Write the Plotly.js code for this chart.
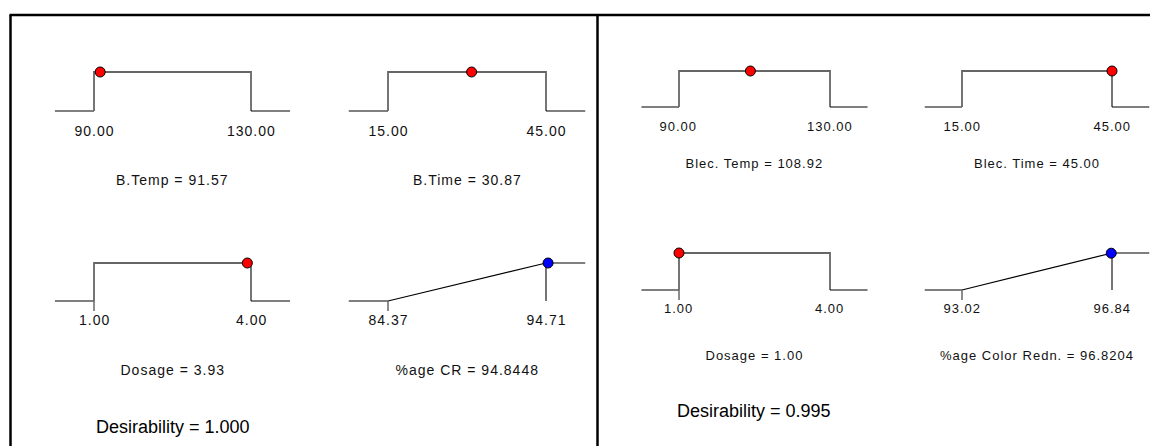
<!DOCTYPE html>
<html>
<head>
<meta charset="utf-8">
<script src="https://cdn.plot.ly/plotly-3.0.1.min.js"></script>
<style>
  html, body { margin: 0; padding: 0; background: #fff; }
  #chart { width: 1150px; height: 446px; }
  /* small labels are drawn with the loose spacing of the original software */
  .annotation text { letter-spacing: 1px; }
  .annotation[data-index="0"] text, .annotation[data-index="1"] text { letter-spacing: 0; }
</style>
</head>
<body>
<div id="chart"></div>
<script>
// ---- Solution 1 (left panel) ----
const leftNames  = ['B.Temp', 'B.Time', 'Dosage', '%age CR'];
const leftLows   = [90, 15, 1, 84.37];
const leftHighs  = [130, 45, 4, 94.71];
const leftValues = [91.57, 30.87, 3.93, 94.8448];

// ---- Solution 2 (right panel) ----
const rightNames  = ['Blec. Temp', 'Blec. Time', 'Dosage', '%age Color Redn.'];
const rightLows   = [90, 15, 1, 93.02];
const rightHighs  = [130, 45, 4, 96.84];
const rightValues = [108.92, 45.00, 1.00, 96.8204];

// goal of each variable: factors kept in range, response maximized
const goals    = ['range', 'range', 'range', 'max'];
const decimals = [2, 2, 2, 4];

// overall desirability of each solution
const desirability = [1.000, 0.995];

// ---------------------------------------------------------------
const W = 1150, H = 446;
const EXT = 0.25;            // flat segment beyond each limit, as a fraction of the span
const BLACK = '#000000', GREY = '#666666';

// pixel placement of each panel's 2x2 grid of ramps
const panels = [
  { names: leftNames, lows: leftLows, highs: leftHighs, values: leftValues,
    cols: [[94, 251], [388, 546]], rows: [[111, 72], [301, 263]],
    font: 14, tickShift: [20, 19], labelShift: [69, 69], desShift: 126 },
  { names: rightNames, lows: rightLows, highs: rightHighs, values: rightValues,
    cols: [[679, 830], [962, 1112]], rows: [[107, 71], [290, 253]],
    font: 13, tickShift: [19, 19], labelShift: [56, 66], desShift: 121 }
];

const FONT = 'Liberation Sans, Arial, sans-serif';
const traces = [];
const layout = {
  width: W, height: H,
  margin: { l: 0, r: 0, t: 0, b: 0 },
  paper_bgcolor: '#ffffff', plot_bgcolor: 'rgba(0,0,0,0)',
  showlegend: false,
  font: { family: FONT, color: '#000' },
  annotations: [],
  shapes: [
    // panel frames
    { type: 'line', xref: 'paper', yref: 'paper', x0: 10.5 / W, x1: 10.5 / W, y0: 1 - 15 / H, y1: 0, line: { color: '#000', width: 2.5 } },
    { type: 'line', xref: 'paper', yref: 'paper', x0: 9.5 / W, x1: 1, y0: 1 - 15 / H, y1: 1 - 15 / H, line: { color: '#000', width: 2.5 } },
    { type: 'line', xref: 'paper', yref: 'paper', x0: 597.5 / W, x1: 597.5 / W, y0: 1 - 15 / H, y1: 0, line: { color: '#000', width: 2.5 } }
  ]
};

const Y_MIN = -0.3, Y_MAX = 1.2;
const desNotes = [];

let axisNum = 0;
panels.forEach((p, pi) => {
  p.names.forEach((name, i) => {
    axisNum++;
    const r = Math.floor(i / 2), c = i % 2;
    const [loPx, hiPx] = p.cols[c];
    const [lowPx, topPx] = p.rows[r];
    const spanPx = hiPx - loPx, hPx = lowPx - topPx;

    const lo = p.lows[i], hi = p.highs[i], val = p.values[i];
    const span = hi - lo;
    const xr = [lo - EXT * span, hi + EXT * span];

    const xa = 'xaxis' + (axisNum === 1 ? '' : axisNum);
    const ya = 'yaxis' + (axisNum === 1 ? '' : axisNum);
    const xid = 'x' + (axisNum === 1 ? '' : axisNum);
    const yid = 'y' + (axisNum === 1 ? '' : axisNum);

    const axBase = { visible: false, showgrid: false, zeroline: false, fixedrange: true };
    layout[xa] = Object.assign({}, axBase, {
      range: xr, anchor: yid,
      domain: [(loPx - EXT * spanPx) / W, (hiPx + EXT * spanPx) / W]
    });
    layout[ya] = Object.assign({}, axBase, {
      range: [Y_MIN, Y_MAX], anchor: xid,
      domain: [1 - (lowPx - Y_MIN * hPx) / H, 1 - (topPx - (Y_MAX - 1) * hPx) / H]
    });

    const line = (xs, ys, color, width) => traces.push({
      type: 'scatter', mode: 'lines', x: xs, y: ys, xaxis: xid, yaxis: yid,
      line: { color: color, width: width }, hoverinfo: 'skip'
    });

    let d;
    if (goals[i] === 'range') {
      d = (val >= lo && val <= hi) ? 1 : 0;
      line([xr[0], lo], [0, 0], BLACK, 1.2);
      line([lo, lo, hi, hi], [0, 1, 1, 0], GREY, 1.8);
      line([hi, xr[1]], [0, 0], BLACK, 1.2);
    } else {
      d = Math.max(0, Math.min(1, (val - lo) / span));
      line([xr[0], lo, hi, xr[1]], [0, 0, 1, 1], BLACK, 1.2);
      line([hi, hi], [1, 0], GREY, 1.8);
    }
    // short tick under the lower limit on the second row
    if (r === 1) line([lo, lo], [0, -10 / hPx], GREY, 1.5);

    // current setting
    traces.push({
      type: 'scatter', mode: 'markers', x: [val], y: [d], xaxis: xid, yaxis: yid,
      cliponaxis: false, hoverinfo: 'skip',
      marker: { size: 10, color: goals[i] === 'max' ? '#0000ff' : '#ff0000', line: { color: '#000', width: 1 } }
    });

    // limit labels
    [lo, hi].forEach(v => layout.annotations.push({
      xref: xid, yref: yid, x: v, y: 0, yshift: -p.tickShift[r],
      text: v.toFixed(2), showarrow: false, xanchor: 'center', yanchor: 'middle',
      font: { family: FONT, size: p.font, color: '#111' }
    }));

    // variable label
    layout.annotations.push({
      xref: xid + ' domain', yref: yid, x: 0.5, y: 0, yshift: -p.labelShift[r],
      text: name + ' = ' + val.toFixed(decimals[i]), showarrow: false,
      xanchor: 'center', yanchor: 'middle',
      font: { family: FONT, size: p.font, color: '#111' }
    });

    if (i === 2) {
      desNotes.push({
        xref: xid + ' domain', yref: yid, x: 0.5, y: 0, yshift: -p.desShift,
        text: 'Desirability = ' + desirability[pi].toFixed(3), showarrow: false,
        xanchor: 'center', yanchor: 'middle',
        font: { family: FONT, size: 18, color: '#000' }
      });
    }
  });
});

// desirability notes go first so their spacing can be styled separately
layout.annotations = desNotes.concat(layout.annotations);

Plotly.newPlot('chart', traces, layout, { staticPlot: true, displayModeBar: false });
</script>
</body>
</html>
